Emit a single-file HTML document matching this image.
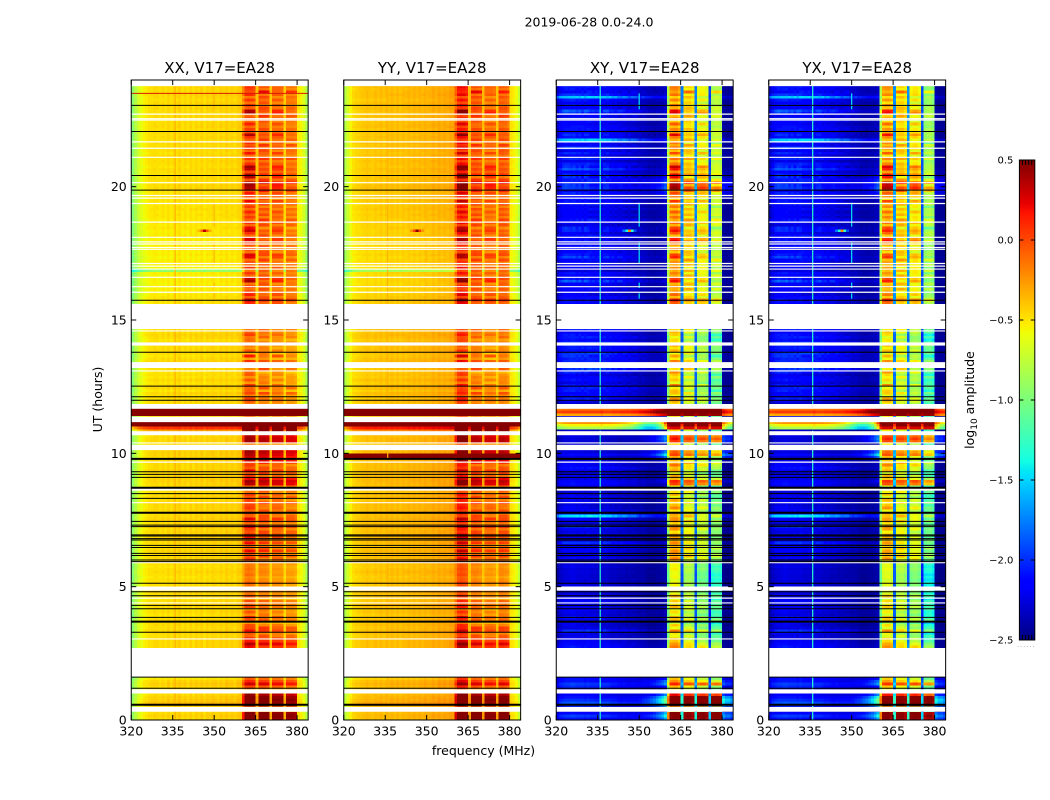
<!DOCTYPE html>
<html lang="en">
<head>
<meta charset="utf-8">
<title>2019-06-28 0.0-24.0</title>
<style>
html,body{margin:0;padding:0;background:#fff;}
svg{display:block;}
text{font-family:"DejaVu Sans","Liberation Sans",sans-serif;fill:#000;}
</style>
</head>
<body>
<svg id="figure" xmlns="http://www.w3.org/2000/svg" width="1050" height="800" viewBox="0 0 1050 800">
<text x="589" y="26.5" font-size="12.5" text-anchor="middle">2019-06-28 0.0-24.0</text>
<text x="102" y="399.5" font-size="12.5" text-anchor="middle" transform="rotate(-90 102 399.5)">UT (hours)</text>
<text x="483.5" y="755" font-size="12.5" text-anchor="middle">frequency (MHz)</text>
<text x="974" y="400" font-size="12.5" text-anchor="middle" transform="rotate(-90 974 400)">log<tspan font-size="9" dy="3">10</tspan><tspan dy="-3"> amplitude</tspan></text>
<g id="panels"></g>
<g id="colorbar"></g>
<text x="1017" y="647" font-size="6" letter-spacing="1.2" style="fill:#888">......</text>
</svg>
<script>
// ---------- chart data ----------
const panelTitles = ['XX, V17=EA28', 'YY, V17=EA28', 'XY, V17=EA28', 'YX, V17=EA28'];
const freqTicks = [320, 335, 350, 365, 380];
const hourTicks = [0, 5, 10, 15, 20];
const colorbarTicks = [0.5, 0, -0.5, -1, -1.5, -2, -2.5];
const colorbarTickLabels = ['0.5', '0.0', '\u22120.5', '\u22121.0', '\u22121.5', '\u22122.0', '\u22122.5'];

// log10 amplitude per 1 MHz channel, 320..383 MHz
const profileXX = [
 -.95,-.82,-.70,-.62,-.56,-.53,-.50,-.49,-.47,-.48,
 -.50,-.47,-.50,-.46,-.50,-.46,-.48,-.44,-.49,-.46,
 -.50,-.45,-.49,-.45,-.48,-.44,-.49,-.45,-.47,-.44,
 -.46,-.48,-.44,-.47,-.43,-.46,-.44,-.47,-.43,-.42,
 -.30,-.14,-.12,-.14,-.18,-.42,-.20,-.20,-.20,-.22,
 -.44,-.24,-.24,-.24,-.26,-.46,-.28,-.28,-.28,-.32,
 -.52,-.56,-.66,-.85];
const profileYY = [
 -.82,-.68,-.56,-.48,-.45,-.44,-.42,-.41,-.39,-.41,
 -.42,-.39,-.41,-.38,-.41,-.38,-.40,-.37,-.40,-.37,
 -.40,-.37,-.39,-.36,-.38,-.35,-.38,-.35,-.37,-.34,
 -.36,-.35,-.32,-.35,-.31,-.34,-.31,-.33,-.30,-.30,
 -.18,-.02, .00,-.02,-.06,-.38,-.20,-.18,-.20,-.22,
 -.40,-.26,-.25,-.25,-.28,-.42,-.20,-.20,-.22,-.26,
 -.50,-.54,-.60,-.76];
const profileXY = [
 -2.44,-2.36,-2.32,-2.30,-2.30,-2.28,-2.28,-2.30,-2.30,-2.30,
 -2.32,-2.30,-2.32,-2.32,-2.34,-2.36,-2.34,-2.34,-2.34,-2.36,
 -2.36,-2.36,-2.38,-2.38,-2.38,-2.40,-2.40,-2.40,-2.40,-2.42,
 -2.42,-2.42,-2.44,-2.46,-2.46,-2.46,-2.44,-2.44,-2.42,-2.40,
 -1.00,-0.50,-0.46,-0.46,-0.55,-1.85,-0.74,-0.70,-0.70,-0.78,
 -1.85,-0.92,-0.87,-0.87,-0.95,-2.05,-1.14,-1.08,-1.08,-1.16,
 -2.46,-2.48,-2.48,-2.48];
const profileYX = [
 -2.44,-2.36,-2.32,-2.30,-2.30,-2.28,-2.28,-2.30,-2.30,-2.30,
 -2.32,-2.30,-2.32,-2.32,-2.34,-2.36,-2.34,-2.34,-2.34,-2.36,
 -2.36,-2.36,-2.38,-2.38,-2.38,-2.40,-2.40,-2.40,-2.40,-2.42,
 -2.42,-2.42,-2.44,-2.46,-2.46,-2.46,-2.44,-2.44,-2.42,-2.40,
 -1.00,-0.56,-0.52,-0.52,-0.60,-1.80,-0.74,-0.70,-0.70,-0.78,
 -1.80,-0.87,-0.81,-0.81,-0.89,-2.00,-1.26,-1.20,-1.20,-1.28,
 -2.46,-2.48,-2.48,-2.48];
// strong-interference cross-hand rows
const crossHotUpper = [
 -.30,-.28,-.26,-.26,-.25,-.25,-.24,-.24,-.24,-.24,
 -.24,-.24,-.24,-.24,-.24,-.24,-.20,-.24,-.24,-.24,
 -.22,-.22,-.22,-.20,-.20,-.18,-.18,-.16,-.14,-.12,
 -.10,-.08,-.04, .00, .06, .12, .18, .24, .30, .36,
  .50, .52, .52, .52, .52, .42, .52, .52, .52, .52,
  .42, .50, .52, .52, .50, .40, .50, .50, .50, .50,
  .00,-.10,-.15,-.20];
const crossHotLower = [
 -.70,-.65,-.60,-.58,-.56,-.55,-.55,-.55,-.54,-.54,
 -.54,-.54,-.54,-.54,-.54,-.54,-.50,-.54,-.54,-.55,
 -.56,-.58,-.60,-.62,-.66,-.70,-.74,-.80,-.88,-.98,
 -1.08,-1.18,-1.26,-1.30,-1.30,-1.25,-1.15,-1.00,-.70,-.30,
  .40, .52, .52, .52, .52, .10, .52, .52, .52, .52,
  .10, .52, .52, .52, .52, .10, .50, .50, .50, .50,
 -.40,-.60,-.80,-.90];
// how much a row gain applies to each channel
const bandWeightParallel = [
 0,0,0,0,0,0,0,0,0,0, 0,0,0,0,0,0,0,0,0,0, 0,0,0,0,0,0,0,0,0,0, 0,0,0,0,0,0,0,0,0,0,
 .6,1,1,1,1,.15,1,1,1,1, .15,1,1,1,1,.15,1,1,1,1, 0,0,0,0];
const bandWeightCross = [
 0,0,0,0,0,0,0,0,0,0, 0,0,0,0,0,0,0,0,0,0, 0,0,0,0,0,0,0,0,0,0, 0,0,0,0,0,0,0,0,0,0,
 .8,1,1,1,1,.5,1.15,1.15,1.15,1.15, .5,1.35,1.35,1.35,1.35,.5,1.6,1.6,1.6,1.6, 0,0,0,0];
const stripeAWeight = [
 0,0,0,0,0,0,0,0,0,0, 0,0,0,0,0,0,0,0,0,0, 0,0,0,0,0,0,0,0,0,0, 0,0,0,0,0,0,0,0,0,0,
 .5,1,1,1,1,0,0,0,0,0, 0,.6,.6,.6,.6,0,0,0,0,0, 0,0,0,0];
const stripeBWeight = [
 0,0,0,0,0,0,0,0,0,0, 0,0,0,0,0,0,0,0,0,0, 0,0,0,0,0,0,0,0,0,0, 0,0,0,0,0,0,0,0,0,0,
 0,0,0,0,0,0,.8,.8,.8,.8, 0,0,0,0,0,0,.6,.6,.6,.6, 0,0,0,0];
const crossLeftWeight = [
 .8,1,1,1,1,1,1,1,1,1, 1,1,1,1,1,1,1,1,1,1, .9,.9,.85,.8,.8,.75,.7,.7,.65,.6,
 .5,.55,.5,.5,.45,.45,.4,.4,.4,.4, 0,0,0,0,0,0,0,0,0,0, 0,0,0,0,0,0,0,0,0,0, .3,.2,.2,.2];
// channel pattern that breaks cross-hand background rows into streaks
const crossMottleA = [
 0,.3,.5,.6,.5,.4,.5,.3,.5,.2, .6,.4,.1,.2,.1,.3,0,.4,.5,.2, .3,.1,.4,.5,.2,.1,.3,.1,0,.1,
 .2,0,.1,0,.1,0,.1,0,.1,.1, 0,0,0,0,0,0,0,0,0,0, 0,0,0,0,0,0,0,0,0,0, 0,0,0,0];
const crossMottleB = [
 .1,0,.2,.1,.2,.1,0,.3,.1,.4, .1,.5,.6,.4,.6,.4,.2,.5,.1,.4, .1,.4,.1,.2,.5,.4,.1,.4,.5,.3,
 .1,.3,.2,.1,.2,.1,0,.1,0,.1, 0,0,0,0,0,0,0,0,0,0, 0,0,0,0,0,0,0,0,0,0, 0,0,0,0];
const wedgeWeight = [
 0,0,0,0,0,0,0,0,0,0, 0,0,0,0,0,0,0,0,0,0, 0,0,0,0,.02,.04,.05,.06,.08,.1,
 .14,.18,.24,.3,.38,.46,.56,.68,.82,1, 0,0,0,0,0,0,0,0,0,0, 0,0,0,0,0,0,0,0,0,0, .8,.7,.7,.6];

// per-row gains in hundredths of a decade, row = 0.1 h, from 0 h upwards
const parallelLeftGain = [
 2,4,2,0,0,8,10,6,4,2,
 0,0,3,6,3,-3,0,0,0,0,
 0,0,0,0,0,0,0,2,2,2,
 2,0,2,3,0,2,0,2,-3,-2,
 1,-2,2,3,0,-2,0,2,2,-2,
 0,2,0,-2,0,2,0,-2,0,2,
 2,3,0,4,2,0,3,2,4,3,
 3,2,4,2,3,4,2,0,3,2,
 2,4,0,3,2,0,3,2,3,4,
 4,2,3,4,2,2,3,3,3,4,
 4,3,0,0,3,3,2,0,20,55,
 150,150,0,0,150,150,150,150,0,2,
 0,1,3,-2,3,0,-2,2,-2,0,
 -2,0,0,0,3,1,-2,0,2,1,
 1,2,-1,2,3,1,1,0,0,0,
 0,0,0,0,0,0,-2,-2,-3,-4,
 -6,-6,-5,-7,-6,-6,-7,-6,-45,-8,
 -6,-5,-6,-7,-5,-6,-4,-5,-6,-5,
 -6,-4,-5,-5,-3,-4,-2,-4,-3,-2,
 -3,-1,-2,-3,-1,-2,-1,-2,-1,2,
 1,-1,0,1,-1,0,1,-1,0,1,
 0,1,-1,0,1,0,2,0,1,0,
 1,0,2,1,0,1,2,0,1,2,
 1,2,0,2,3,2,1,2,0,0];
const parallelBandGain = [
 70,75,70,0,0,65,70,75,70,60,
 0,0,15,45,25,10,0,0,0,0,
 0,0,0,0,0,0,0,30,40,25,
 25,10,5,15,20,5,-5,5,10,0,
 5,-5,5,10,5,-5,0,5,5,-5,
 0,5,0,-5,0,0,0,-5,0,5,
 10,15,5,20,10,5,15,10,20,15,
 15,10,20,10,15,25,10,5,15,10,
 10,20,5,15,10,5,15,10,50,55,
 40,10,15,25,15,10,20,45,45,50,
 55,50,0,0,55,55,50,80,100,100,
 150,150,0,0,150,150,150,150,0,5,
 0,5,10,-5,10,0,-5,5,-5,0,
 -10,0,0,0,10,-8,12,-10,5,-5,
 0,5,-5,5,8,3,6,0,0,0,
 0,0,0,0,0,0,15,20,10,15,
 15,8,12,5,15,15,8,12,10,15,
 10,8,12,8,15,5,10,12,8,10,
 15,8,12,10,5,12,18,15,8,12,
 15,10,5,12,15,8,12,18,22,20,
 20,25,15,10,15,20,12,15,8,12,
 18,12,20,8,15,18,8,12,15,12,
 18,8,12,15,8,12,15,18,10,12,
 10,8,15,8,12,18,10,8,0,0];
const stripeA = [
 0,0,0,0,0,0,0,0,0,0,
 0,0,0,0,0,0,0,0,0,0,
 0,0,0,0,0,0,0,5,10,5,
 8,-5,5,18,-5,8,-8,5,12,-5,
 5,-8,10,-5,8,-5,10,-8,5,-5,
 0,2,-2,0,2,-2,0,2,-2,0,
 12,-5,8,15,-8,5,18,-5,8,10,
 -5,8,15,-8,5,12,-5,8,-8,10,
 5,-8,12,-5,8,-5,10,-8,0,0,
 -5,10,-8,12,-5,8,-5,0,0,0,
 0,0,0,0,0,0,0,0,0,0,
 0,0,0,0,0,0,0,0,0,5,
 18,-8,5,12,-5,20,-8,5,-5,8,
 15,-5,0,0,12,-8,18,-10,5,-5,
 5,-5,8,-5,10,5,-5,0,0,0,
 0,0,0,0,0,0,10,25,-5,12,
 5,-8,10,-5,38,30,-5,8,-10,5,
 -5,10,-8,30,25,-5,8,-10,12,30,
 25,-5,10,35,30,-8,5,-10,12,-5,
 10,-8,15,-5,20,-10,5,12,-8,30,
 35,30,-5,40,35,-5,35,40,15,-8,
 5,-10,12,-5,10,-8,15,-5,8,40,
 -5,10,-8,12,-5,8,-10,35,40,-5,
 10,-8,5,-10,12,-5,8,15,0,0];
const stripeB = [
 0,0,0,0,0,0,0,0,0,0,
 0,0,0,0,0,0,0,0,0,0,
 0,0,0,0,0,0,0,-5,10,8,
 -5,10,-8,15,8,-5,-10,12,-5,8,
 -8,12,5,-5,10,-8,5,-5,12,-5,
 -2,2,0,-2,0,2,-2,0,2,0,
 -8,10,-5,12,8,-8,15,-5,-8,12,
 8,-5,10,-8,12,-5,15,-8,5,-8,
 -5,12,-8,8,-5,10,-8,5,0,0,
 8,-5,12,-8,5,-8,12,0,0,0,
 0,0,0,0,0,0,0,0,0,0,
 0,0,0,0,0,0,0,0,0,-5,
 8,-5,15,-8,10,-5,12,-8,10,-5,
 -8,25,0,0,10,5,-8,18,-5,8,
 -5,8,-5,10,-8,5,8,0,0,0,
 0,0,0,0,0,0,-5,15,8,-8,
 -8,12,-5,15,-8,10,12,-8,5,-10,
 12,-5,15,-8,10,18,-8,12,-5,8,
 -8,15,-5,8,-10,12,-8,15,-5,10,
 -10,12,-5,15,-8,12,-5,-8,15,10,
 -5,30,15,-8,20,-8,12,-5,15,-8,
 12,-5,-8,15,-5,12,-8,15,-5,8,
 -8,15,-5,-8,12,-5,15,-8,10,12,
 -5,12,-8,15,-8,30,-5,10,0,0];
const crossLeftGain = [
 15,25,12,0,0,20,30,22,15,10,
 0,0,20,25,15,15,0,0,0,0,
 0,0,0,0,0,0,0,15,8,5,
 6,4,8,14,5,3,10,3,12,4,
 6,10,3,8,5,10,3,6,3,5,
 4,2,3,3,2,4,3,5,3,2,
 10,5,8,3,12,6,15,5,8,10,
 5,8,16,4,6,9,60,12,8,5,
 3,6,4,8,5,3,5,4,14,12,
 5,8,4,6,15,8,10,5,3,12,
 4,3,0,0,3,3,4,0,0,-25,
 0,30,0,0,-5,30,10,0,0,5,
 12,16,8,15,18,10,6,14,10,5,
 16,20,12,0,14,20,18,24,13,18,
 16,22,12,18,14,9,16,0,0,0,
 0,0,0,0,0,0,9,6,12,5,
 8,12,5,9,20,6,10,14,5,8,
 9,5,12,18,8,10,6,14,9,5,
 6,13,5,8,12,4,9,16,6,10,
 8,12,6,14,10,18,9,16,8,13,
 12,6,16,9,5,13,18,8,12,9,
 16,10,17,6,22,12,9,55,13,6,
 14,10,18,8,12,20,9,14,17,10,
 13,9,17,55,21,8,14,10,0,0];
const crossBandGain = [
 100,105,100,0,0,100,105,110,105,70,
 0,0,10,60,25,10,0,0,0,0,
 0,0,0,0,0,0,0,25,10,0,
 0,-5,-10,10,-5,-5,-15,5,-5,-10,
 -5,-5,0,0,-5,-10,0,-5,-10,-10,
 -10,-10,-15,-10,-15,-10,-5,-10,-5,0,
 15,20,15,5,20,10,5,15,10,5,
 5,15,5,10,15,10,20,10,5,15,
 5,10,5,-5,0,5,10,-5,50,60,
 20,5,-5,5,15,25,25,10,15,50,
 40,25,0,0,55,65,55,0,0,100,
 105,105,0,0,105,105,105,105,0,10,
 5,0,5,-5,0,5,-5,0,5,-5,
 10,5,0,0,15,5,-5,0,10,5,
 15,5,-10,-5,-8,5,8,0,0,0,
 0,0,0,0,0,0,28,33,18,23,
 18,23,13,20,18,13,23,18,28,20,
 23,18,28,20,18,13,20,18,20,33,
 28,18,30,20,13,23,33,28,18,23,
 28,20,13,23,28,18,26,33,43,53,
 38,48,28,18,26,33,20,28,16,23,
 28,18,33,16,23,28,13,20,23,20,
 28,16,20,26,13,20,23,28,18,20,
 20,13,23,16,20,26,18,13,0,0];
const crossWedgeGain = [
 45,60,50,0,0,60,75,85,70,40,
 0,0,15,40,35,15,0,0,0,0,
 0,0,0,0,0,0,0,0,0,0,
 0,0,0,0,0,0,0,0,0,0,
 0,0,0,0,0,0,0,0,0,0,
 0,0,0,0,0,0,0,0,0,0,
 0,0,0,0,0,0,0,0,0,0,
 0,0,0,0,0,0,0,0,0,0,
 0,0,0,0,0,0,0,0,0,10,
 5,0,0,0,0,0,0,8,40,60,
 40,20,0,0,40,45,40,0,0,55,
 0,0,0,0,0,0,0,0,0,0,
 0,0,0,0,0,0,0,0,0,0,
 0,0,0,0,0,0,0,0,0,0,
 0,0,0,0,0,0,0,0,0,0,
 0,0,0,0,0,0,0,0,0,0,
 0,0,0,0,0,0,0,0,0,0,
 0,0,0,0,0,0,0,0,0,0,
 0,0,0,0,0,0,0,0,0,0,
 0,0,0,0,0,0,8,15,25,30,
 25,30,20,10,8,5,0,0,0,0,
 0,0,0,0,0,0,0,0,0,0,
 0,0,0,0,0,0,0,0,0,0,
 0,0,0,0,0,0,0,0,0,0];
const crossHotUpperRows = [114, 115, 116, 117];
const crossHotLowerRows = [109, 110, 111];
const yyHotRows = [98, 99];

// narrow interference lines finer than one channel
const narrowFreqs = [335.9, 350.0];
const narrowValueParallel = [-0.34, -0.36];
const narrowValueCross = [-1.3, -1.45];
const line335Starts = [0, 11.85];
const line335Ends = [10.85, 24];
const line350Starts = [22.9, 18.5, 17.1, 15.8, 16.2];
const line350Ends = [23.5, 19.4, 17.9, 16.0, 16.4];

// isolated narrow-band bursts
const spotRows = [183, 183, 183, 183, 183];
const spotChannels = [344, 345, 346, 347, 348];
const spotLift = [.2, .45, 1.0, .5, .2];

// flagged time ranges, start and end hours
const blankStarts = [23.77, 14.66, 14.04, 13.2, 11.67, 11.17, 10.68, 10.12, 8.6, 4.85, 1.6, 1.0, 0.31];
const blankEnds = [24, 15.6, 14.16, 13.42, 11.85, 11.37, 10.83, 10.32, 8.7, 5.0, 2.7, 1.15, 0.49];
const whiteLineHours = [22.72, 22.55, 22.5, 21.68, 21.44, 21.1, 20.15, 19.67, 19.57, 19.37, 18.67, 18.1, 17.93, 17.85, 17.72, 17.65, 17.12, 17.02, 16.91, 16.6, 16.25, 16.04, 14.59, 13.09, 10.39, 9.67, 8.15, 5.9, 4.57, 4.39, 3.04];
const blackLineHours = [23.05, 22.07, 20.42, 19.87, 15.74, 13.79, 12.52, 12.12, 11.99, 9.31, 9.21, 9.1, 8.49, 8.31, 7.45, 7.31, 7.25, 6.94, 6.9, 6.8, 6.75, 6.55, 6.47, 6.25, 6.17, 6.0, 5.94, 5.13, 4.81, 4.66, 4.3, 4.17, 3.85, 3.29, 1.61, 1.19];
const thickBlackLineHours = [9.79, 8.71, 7.77, 3.69, 0.57];

// ---------- layout / scales ----------
const SVG_NS = 'http://www.w3.org/2000/svg';
const plotLeft = 131.25, plotStep = 212.5, plotWidth = 176.9, plotTop = 80, plotBottom = 720;
const freqMin = 320, freqMax = 384, hourMax = 24;
const rowHours = 0.1, levels = 96, vMin = -2.5, vMax = 0.5;
function xScale(i, f) { return plotLeft + plotStep * i + (f - freqMin) / (freqMax - freqMin) * plotWidth; }
function yScale(h) { return plotBottom - h / hourMax * (plotBottom - plotTop); }

function interp(stops, t) {
  for (let i = 1; i < stops.length; i++) {
    if (t <= stops[i][0]) {
      const a = stops[i - 1], b = stops[i];
      return a[1] + (b[1] - a[1]) * (t - a[0]) / (b[0] - a[0]);
    }
  }
  return stops[stops.length - 1][1];
}
const jetR = [[0,0],[.35,0],[.66,1],[.89,1],[1,.5]];
const jetG = [[0,0],[.125,0],[.375,1],[.64,1],[.91,0],[1,0]];
const jetB = [[0,.5],[.11,1],[.34,1],[.65,0],[1,0]];
function jet(t) {
  t = Math.max(0, Math.min(1, t));
  return 'rgb(' + Math.round(255 * interp(jetR, t)) + ',' + Math.round(255 * interp(jetG, t)) + ',' + Math.round(255 * interp(jetB, t)) + ')';
}
function valueColor(v) { return jet((v - vMin) / (vMax - vMin)); }
function level(v) {
  const t = (v - vMin) / (vMax - vMin);
  return Math.max(0, Math.min(levels - 1, Math.floor(t * levels)));
}
function isBlankRow(r) {
  const lo = r * rowHours, hi = (r + 1) * rowHours;
  for (let i = 0; i < blankStarts.length; i++) {
    if (lo >= blankStarts[i] && hi <= blankEnds[i]) return true;
  }
  return false;
}
function cellValue(p, r, c) {
  let v;
  const stripes = stripeA[r] / 100 * stripeAWeight[c] + stripeB[r] / 100 * stripeBWeight[c];
  if (p < 2) {
    const base = p === 0 ? profileXX : profileYY;
    const w = bandWeightParallel[c];
    if (p === 1 && yyHotRows.indexOf(r) >= 0) return 0.5;
    v = base[c] + parallelLeftGain[r] / 100 * (1 - Math.min(1, w)) + parallelBandGain[r] / 100 * w + stripes;
  } else {
    const base = p === 2 ? profileXY : profileYX;
    if (crossHotUpperRows.indexOf(r) >= 0) return crossHotUpper[c] + crossLeftGain[r] / 100;
    if (crossHotLowerRows.indexOf(r) >= 0) return crossHotLower[c] + crossLeftGain[r] / 100;
    v = base[c] + crossLeftGain[r] / 100 * 1.4 * crossLeftWeight[c] + crossBandGain[r] / 100 * bandWeightCross[c] + crossWedgeGain[r] / 100 * 1.5 * wedgeWeight[c] + stripes * 1.3
      + stripeA[r] / 100 * crossMottleA[c] + stripeB[r] / 100 * crossMottleB[c];
  }
  for (let s = 0; s < spotRows.length; s++) {
    if (spotRows[s] === r && spotChannels[s] - freqMin === c) v += spotLift[s] * (p < 2 ? 0.9 : 2);
  }
  return v;
}

function addLine(parent, x1, y1, x2, y2, color, width, name) {
  const l = document.createElementNS(SVG_NS, 'line');
  l.setAttribute('x1', x1); l.setAttribute('y1', y1); l.setAttribute('x2', x2); l.setAttribute('y2', y2);
  l.setAttribute('stroke', color); l.setAttribute('stroke-width', width);
  
  
  parent.appendChild(l);
  return l;
}
function addText(parent, x, y, size, anchor, str, name) {
  const t = document.createElementNS(SVG_NS, 'text');
  t.setAttribute('x', x); t.setAttribute('y', y); t.setAttribute('font-size', size); t.setAttribute('text-anchor', anchor);
  t.textContent = str;
  
  
  parent.appendChild(t);
  return t;
}

const root = document.getElementById('panels');
panelTitles.forEach(function (title, p) {
  const g = document.createElementNS(SVG_NS, 'g');
  
  
  const left = xScale(p, freqMin), right = xScale(p, freqMax);

  // heatmap cells, neighbouring equal-colour channels merged into one rect
  const heat = document.createElementNS(SVG_NS, 'g');
  
  
  heat.setAttribute('shape-rendering', 'crispEdges');
  const channelCount = freqMax - freqMin;
  const rowCount = Math.round(hourMax / rowHours);
  for (let r = 0; r < rowCount; r++) {
    if (isBlankRow(r)) continue;
    let start = 0, cur = level(cellValue(p, r, 0));
    for (let c = 1; c <= channelCount; c++) {
      const lv = c < channelCount ? level(cellValue(p, r, c)) : -1;
      if (lv !== cur) {
        const cell = document.createElementNS(SVG_NS, 'rect');
        cell.setAttribute('x', xScale(p, freqMin + start).toFixed(2));
        cell.setAttribute('y', yScale((r + 1) * rowHours).toFixed(2));
        cell.setAttribute('width', (xScale(p, freqMin + c) - xScale(p, freqMin + start)).toFixed(2));
        cell.setAttribute('height', (yScale(r * rowHours) - yScale((r + 1) * rowHours)).toFixed(2));
        cell.setAttribute('fill', jet((cur + 0.5) / levels));
        
        
        heat.appendChild(cell);
        start = c; cur = lv;
      }
    }
  }
  g.appendChild(heat);

  // narrow interference lines
  const narrowValues = p < 2 ? narrowValueParallel : narrowValueCross;
  line335Starts.forEach(function (s, i) {
    addLine(g, xScale(p, narrowFreqs[0]), yScale(line335Ends[i]), xScale(p, narrowFreqs[0]), yScale(s), valueColor(narrowValues[0]), 1.2, 'narrow-line-335');
  });
  line350Starts.forEach(function (s, i) {
    addLine(g, xScale(p, narrowFreqs[1]), yScale(line350Ends[i]), xScale(p, narrowFreqs[1]), yScale(s), valueColor(narrowValues[1]), 1.2, 'narrow-line-350');
  });

  // flagged time ranges
  blankStarts.forEach(function (s, i) {
    const b = document.createElementNS(SVG_NS, 'rect');
    b.setAttribute('x', left); b.setAttribute('width', right - left);
    b.setAttribute('y', yScale(blankEnds[i])); b.setAttribute('height', yScale(s) - yScale(blankEnds[i]));
    b.setAttribute('fill', '#fff');
    
    
    g.appendChild(b);
  });
  whiteLineHours.forEach(function (h) { addLine(g, left, yScale(h), right, yScale(h), '#fff', 1.2, 'flagged-line'); });
  blackLineHours.forEach(function (h) { addLine(g, left, yScale(h), right, yScale(h), '#000', 1, 'dropout-line'); });
  thickBlackLineHours.forEach(function (h) { addLine(g, left, yScale(h), right, yScale(h), '#000', 2, 'dropout-line-thick'); });
  if (p === 0) addLine(g, left, yScale(23.5), right, yScale(23.5), '#d81c00', 1, 'burst-line');

  // ticks and labels
  freqTicks.forEach(function (f) {
    const x = xScale(p, f);
    addLine(g, x, plotBottom, x, plotBottom - 5, '#000', 1, 'x-tick');
    addLine(g, x, plotTop, x, plotTop + 5, '#000', 1, 'x-tick-top');
    addText(g, x, 735.5, 12.5, 'middle', String(f), 'x-tick-label');
  });
  hourTicks.forEach(function (h) {
    const y = yScale(h);
    addLine(g, left, y, left + 5, y, '#000', 1, 'y-tick');
    addLine(g, right, y, right - 5, y, '#000', 1, 'y-tick-right');
    addText(g, left - 4.5, y + 4.5, 12.5, 'end', String(h), 'y-tick-label');
  });

  const frame = document.createElementNS(SVG_NS, 'rect');
  frame.setAttribute('x', left); frame.setAttribute('y', plotTop);
  frame.setAttribute('width', right - left); frame.setAttribute('height', plotBottom - plotTop);
  frame.setAttribute('fill', 'none'); frame.setAttribute('stroke', '#000'); frame.setAttribute('stroke-width', 1);
  
  
  g.appendChild(frame);

  addText(g, (left + right) / 2, 73, 15, 'middle', title, 'panel-title');
  root.appendChild(g);
});

// ---------- colour bar ----------
const cb = document.getElementById('colorbar');
const cbLeft = 1019.4, cbRight = 1034.8, cbTop = 160, cbBottom = 640;
function cbY(v) { return cbBottom - (v - vMin) / (vMax - vMin) * (cbBottom - cbTop); }
const cbSteps = 256;
for (let i = 0; i < cbSteps; i++) {
  const v0 = vMin + (vMax - vMin) * i / cbSteps, v1 = vMin + (vMax - vMin) * (i + 1) / cbSteps;
  const seg = document.createElementNS(SVG_NS, 'rect');
  seg.setAttribute('x', cbLeft); seg.setAttribute('width', cbRight - cbLeft);
  seg.setAttribute('y', cbY(v1).toFixed(2)); seg.setAttribute('height', (cbY(v0) - cbY(v1) + 0.4).toFixed(2));
  seg.setAttribute('fill', jet((i + 0.5) / cbSteps));
  seg.setAttribute('shape-rendering', 'crispEdges');
  
  
  cb.appendChild(seg);
}
colorbarTicks.forEach(function (v, i) {
  const y = cbY(v);
  addLine(cb, cbLeft, y, cbLeft + 4, y, '#000', 1, 'colorbar-tick');
  addLine(cb, cbRight, y, cbRight - 4, y, '#000', 1, 'colorbar-tick-right');
  addText(cb, cbLeft - 6, y + 3.5, 10, 'end', colorbarTickLabels[i], 'colorbar-tick-label');
});
[0.2, 0.4, 0.6, 0.8].forEach(function (frac) {
  const x = cbLeft + (cbRight - cbLeft) * frac;
  addLine(cb, x, cbTop, x, cbTop + 5, '#000', 1, 'colorbar-minor-tick');
  addLine(cb, x, cbBottom, x, cbBottom - 5, '#000', 1, 'colorbar-minor-tick');
});
const cbFrame = document.createElementNS(SVG_NS, 'rect');
cbFrame.setAttribute('x', cbLeft); cbFrame.setAttribute('y', cbTop);
cbFrame.setAttribute('width', cbRight - cbLeft); cbFrame.setAttribute('height', cbBottom - cbTop);
cbFrame.setAttribute('fill', 'none'); cbFrame.setAttribute('stroke', '#000');


cb.appendChild(cbFrame);
</script>
</body>
</html>
